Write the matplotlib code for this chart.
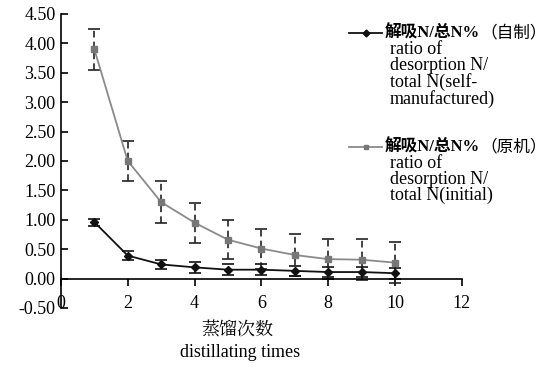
import matplotlib.pyplot as plt
from matplotlib.lines import Line2D

times = [1, 2, 3, 4, 5, 6, 7, 8, 9, 10]
self_made = [0.96, 0.39, 0.24, 0.19, 0.15, 0.15, 0.13, 0.11, 0.11, 0.09]
self_err = [0.06, 0.08, 0.07, 0.09, 0.09, 0.09, 0.08, 0.09, 0.09, 0.09]
initial = [3.90, 2.00, 1.30, 0.95, 0.66, 0.51, 0.40, 0.33, 0.32, 0.27]
init_err = [0.35, 0.34, 0.36, 0.34, 0.33, 0.34, 0.35, 0.34, 0.35, 0.35]

xticks = [0, 2, 4, 6, 8, 10, 12]
yticks = [-0.5, 0, 0.5, 1.0, 1.5, 2.0, 2.5, 3.0, 3.5, 4.0, 4.5]

fonts = ['Liberation Serif', 'Noto Sans CJK SC']
plt.rcParams['font.family'] = fonts

fig = plt.figure(figsize=(5.59, 3.67), dpi=100)
ax = fig.add_axes([0.109, 0.161, 0.717, 0.801])

eb1 = ax.errorbar(times, initial, yerr=init_err, color='#8a8a8a', lw=1.3,
                  marker='s', ms=4, mfc='#777777', mec='#777777',
                  ecolor='#222222', elinewidth=1.2, capsize=4, capthick=1.2)
eb1[2][0].set_linestyle((0, (4, 2.5)))
eb2 = ax.errorbar(times, self_made, yerr=self_err, color='#111111', lw=1.3,
                  marker='D', ms=4, mfc='#111111', mec='#111111',
                  ecolor='#111111', elinewidth=1.2, capsize=4, capthick=1.2)
eb2[2][0].set_linestyle((0, (4, 2.5)))

ax.set_xlim(0, 12)
ax.set_ylim(-0.5, 4.5)
ax.set_xticks(xticks)
ax.set_yticks(yticks)
ax.set_yticklabels([f'{v:.2f}' for v in yticks])
ax.spines['top'].set_visible(False)
ax.spines['right'].set_visible(False)
ax.spines['bottom'].set_position(('data', 0))
ax.spines['left'].set_linewidth(1.2)
ax.spines['bottom'].set_linewidth(1.2)
ax.tick_params(axis='x', direction='out', length=5, width=1.2, pad=7, labelsize=13)
ax.tick_params(axis='y', direction='in', length=5, width=1.2, pad=4, labelsize=13)

fig.text(0.425, 0.1, '蒸馏次数', ha='center', va='center', fontsize=13,
         family=['Noto Serif CJK SC', 'Noto Sans CJK SC'])
fig.text(0.43, 0.04, 'distillating times', ha='center', va='center', fontsize=13)

# legend drawn by hand so the first line can be bold
entries = [
    ('#111111', 'D', '#111111', '解吸N/总N%', '（自制）',
     'ratio of\ndesorption N/\ntotal N(self-\nmanufactured)', 0.910),
    ('#8a8a8a', 's', '#777777', '解吸N/总N%', '（原机）',
     'ratio of\ndesorption N/\ntotal N(initial)', 0.599),
]
for color, mk, mcol, bold, paren, rest, y in entries:
    fig.add_artist(Line2D([0.624, 0.684], [y, y], color=color, lw=1.3))
    fig.add_artist(Line2D([0.654], [y], color=mcol, marker=mk, ms=3.5))
    t = fig.text(0.689, y, bold, ha='left', va='center', fontsize=12,
                 fontweight='bold', family=fonts)
    ax.annotate(paren, xy=(1, 0.5), xycoords=t, ha='left', va='center',
                fontsize=12, family=fonts, annotation_clip=False)
    fig.text(0.697, y - 0.022, rest, ha='left', va='top', fontsize=13,
             linespacing=0.92)

fig.savefig('out.png', dpi=100)
